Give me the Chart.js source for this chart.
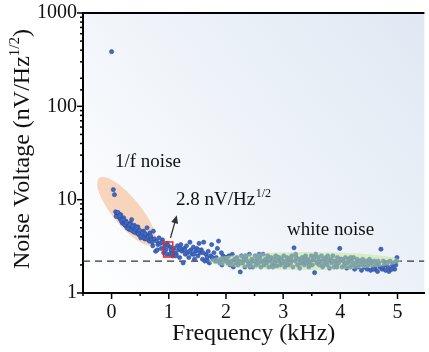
<!DOCTYPE html>
<html>
<head>
<meta charset="utf-8">
<script src="https://cdn.jsdelivr.net/npm/chart.js@4"></script>
<style>
  html, body { margin: 0; padding: 0; background: #fff; }
  #wrap { width: 429px; height: 352px; position: relative; }
</style>
</head>
<body>
<div id="wrap"><canvas id="noiseChart"></canvas></div>
<script>
// frequency in kHz / noise voltage in nV/Hz^1/2
const freq = [
  0.00, 0.03, 0.05, 0.07, 0.09, 0.10, 0.12, 0.13, 0.15, 0.16, 0.18, 0.19, 0.21, 0.22, 0.24, 0.25,
  0.27, 0.28, 0.30, 0.31, 0.33, 0.35, 0.36, 0.38, 0.40, 0.41, 0.43, 0.45, 0.46, 0.48, 0.50, 0.51,
  0.53, 0.55, 0.56, 0.58, 0.60, 0.62, 0.63, 0.65, 0.67, 0.69,
  0.08, 0.11, 0.14, 0.17, 0.20, 0.23, 0.26, 0.29, 0.32, 0.34, 0.37, 0.39, 0.42, 0.44, 0.47, 0.49,
  0.52, 0.54, 0.57, 0.59, 0.61, 0.64, 0.66, 0.68, 0.70,
  0.71, 0.73, 0.75, 0.77, 0.79, 0.81, 0.83, 0.85, 0.87, 0.89, 0.91, 0.93, 0.95, 0.97, 0.99, 1.01,
  1.03, 1.05, 1.07, 1.09, 1.11, 1.13, 1.15, 1.17, 1.19, 1.21, 1.23, 1.25, 1.27, 1.29, 1.31, 1.33,
  1.35, 1.37, 1.39, 1.41, 1.43, 1.45, 1.47, 1.49, 1.51, 1.53, 1.55, 1.57, 1.59, 1.61, 1.63, 1.65,
  1.67, 1.69, 1.71, 1.73, 1.75, 1.77, 1.79, 1.81, 1.83, 1.85, 1.87, 1.89, 1.91, 1.93, 1.95, 1.97, 1.99,
  0.72, 0.80, 0.88, 0.96, 1.04, 1.12, 1.20, 1.28, 1.36, 1.44, 1.52, 1.60, 1.68, 1.76, 1.84, 1.92,
  2.01, 2.03, 2.05, 2.07, 2.09, 2.11, 2.13, 2.15, 2.17, 2.19, 2.21, 2.23, 2.25, 2.27, 2.29, 2.31,
  2.33, 2.35, 2.37, 2.39, 2.41, 2.43, 2.45, 2.47, 2.49, 2.51, 2.53, 2.55, 2.57, 2.59, 2.61, 2.63,
  2.65, 2.67, 2.69, 2.71, 2.73, 2.75, 2.77, 2.79, 2.81, 2.83, 2.85, 2.87, 2.89, 2.91, 2.93, 2.95,
  2.97, 2.99, 3.01, 3.03, 3.05, 3.07, 3.09, 3.11, 3.13, 3.15, 3.17, 3.19, 3.21, 3.23, 3.25, 3.27,
  3.29, 3.31, 3.33, 3.35, 3.37, 3.39, 3.41, 3.43, 3.45, 3.47, 3.49, 3.51, 3.53, 3.55, 3.57, 3.59,
  3.61, 3.63, 3.65, 3.67, 3.69, 3.71, 3.73, 3.75, 3.77, 3.79, 3.81, 3.83, 3.85, 3.87, 3.89, 3.91,
  3.93, 3.95, 3.97, 3.99, 4.01, 4.03, 4.05, 4.07, 4.09, 4.11, 4.13, 4.15, 4.17, 4.19, 4.21, 4.23,
  4.25, 4.27, 4.29, 4.31, 4.33, 4.35, 4.37, 4.39, 4.41, 4.43, 4.45, 4.47, 4.49, 4.51, 4.53, 4.55,
  4.57, 4.59, 4.61, 4.63, 4.65, 4.67, 4.69, 4.71, 4.73, 4.75, 4.77, 4.79, 4.81, 4.83, 4.85, 4.87,
  4.89, 4.91, 4.93, 4.95, 4.97, 4.99,
  2.02, 2.10, 2.18, 2.26, 2.34, 2.42, 2.50, 2.58, 2.66, 2.74, 2.82, 2.90, 2.98, 3.06, 3.14, 3.22,
  3.30, 3.38, 3.46, 3.54, 3.62, 3.70, 3.78, 3.86, 3.94, 4.02, 4.10, 4.18, 4.26, 4.34, 4.42, 4.50,
  4.58, 4.66, 4.74, 4.82, 4.90, 4.98
];
const noise = [
  385, 12.8, 11.3, 7.4, 7.0, 6.8, 7.1, 6.5, 6.2, 6.9, 6.0, 5.6, 6.4, 5.8, 5.3, 5.9,
  5.0, 5.5, 5.2, 4.8, 5.6, 6.1, 5.0, 4.6, 5.3, 4.9, 4.4, 4.7, 5.1, 4.2, 4.5, 3.9,
  4.3, 4.0, 4.6, 3.8, 4.2, 5.0, 4.1, 3.7, 4.4, 3.9,
  6.6, 7.3, 6.7, 5.9, 6.1, 5.4, 5.7, 4.9, 5.4, 4.7, 5.2, 4.5, 4.8, 5.0, 4.3, 4.7,
  4.1, 4.4, 3.9, 4.3, 3.8, 4.0, 3.6, 4.1, 3.7,
  3.5, 4.6, 3.8, 2.8, 3.6, 3.3, 3.9, 3.4, 3.0, 3.7, 2.7, 3.2, 2.9, 3.4, 3.2, 2.6,
  3.1, 2.8, 2.5, 3.0, 2.7, 2.6, 3.2, 2.9, 2.4, 3.3, 2.8, 2.1, 3.0, 2.6, 3.2, 2.7,
  2.4, 3.5, 2.9, 2.6, 3.1, 2.3, 2.8, 3.0, 2.5, 3.4, 2.7, 2.9, 2.3, 3.5, 2.2, 2.6,
  2.4, 2.8, 2.1, 2.5, 3.3, 2.3, 2.7, 2.2, 2.4, 3.0, 3.6, 2.1, 2.3, 2.0, 2.5, 2.2, 2.4,
  3.2, 2.9, 3.5, 2.6, 2.9, 2.5, 3.0, 2.9, 2.8, 2.6, 2.9, 2.7, 2.2, 2.4, 2.2, 2.7,
  2.3, 2.1, 2.5, 2.0, 2.2, 2.6, 1.9, 2.3, 2.1, 2.4, 2.0, 2.2, 1.68, 2.5, 2.1, 2.3,
  1.9, 2.4, 2.2, 2.0, 2.6, 2.1, 2.3, 1.9, 2.2, 2.5, 2.0, 2.3, 2.1, 2.4, 1.9, 2.2,
  2.6, 2.0, 2.3, 2.1, 2.5, 1.9, 2.2, 2.4, 2.0, 2.3, 2.1, 2.5, 1.95, 2.2, 2.4, 2.0,
  2.3, 2.1, 2.5, 1.9, 2.2, 2.4, 2.0, 2.3, 2.1, 2.5, 1.9, 3.05, 2.2, 2.4, 2.0, 2.3,
  1.85, 2.1, 2.4, 2.2, 2.0, 2.5, 2.1, 2.3, 1.9, 2.2, 2.5, 2.0, 2.3, 1.65, 2.6, 2.1,
  2.4, 2.0, 2.2, 2.5, 1.9, 2.3, 2.1, 2.4, 2.0, 2.2, 1.85, 2.3, 2.1, 2.5, 1.9, 2.2,
  2.0, 2.4, 2.1, 3.0, 2.3, 1.9, 2.2, 2.0, 2.4, 1.85, 2.1, 2.3, 1.9, 2.2, 2.0, 2.4,
  1.8, 2.1, 2.3, 1.9, 2.2, 2.0, 1.75, 2.3, 2.1, 1.9, 2.2, 1.8, 2.0, 2.3, 1.75, 2.1,
  1.9, 2.2, 1.8, 2.0, 1.7, 2.1, 1.9, 2.95, 1.8, 2.2, 2.0, 1.75, 2.1, 1.9, 1.7, 2.2,
  1.8, 2.0, 2.1, 1.8, 2.0, 2.4,
  2.4, 2.0, 2.3, 2.1, 2.5, 1.9, 2.2, 2.6, 2.1, 2.3, 1.9, 2.4, 2.2, 2.0, 2.3, 2.6,
  2.1, 2.3, 2.0, 2.4, 2.2, 2.0, 2.5, 2.2, 1.9, 2.3, 2.1, 2.4, 2.0, 2.2, 1.9, 2.1,
  1.8, 2.2, 1.9, 2.1, 1.8, 2.2
];
const xTickLabels = [0, 1, 2, 3, 4, 5];
const yTickLabels = [1, 10, 100, 1000];
const whiteLevel = 2.2;

const serif = "'Liberation Serif', 'DejaVu Serif', serif";

const points = freq.map((f, i) => ({ x: f, y: noise[i] }));

// background, ellipses, marker box, arrow, notes and tick marks
const decor = {
    id: 'decor',
    beforeDraw(chart) {
        const { ctx, chartArea: a } = chart;
        const g = ctx.createLinearGradient(a.left, a.bottom, a.right, a.top);
        g.addColorStop(0, '#ffffff');
        g.addColorStop(1, '#dfe8f3');
        ctx.save();
        ctx.fillStyle = g;
        ctx.fillRect(a.left, a.top, a.right - a.left, a.bottom - a.top);
        ctx.restore();
    },
    beforeDatasetsDraw(chart) {
        const { ctx, scales: { x, y } } = chart;
        ctx.save();
        ctx.fillStyle = 'rgba(246, 196, 160, 0.7)';
        ctx.beginPath();
        ctx.ellipse(x.getPixelForValue(0.26), y.getPixelForValue(7.5), 43, 14, 50.6 * Math.PI / 180, 0, Math.PI * 2);
        ctx.fill();
        ctx.restore();
    },
    afterDatasetsDraw(chart) {
        const { ctx, chartArea: a, scales: { x, y } } = chart;
        ctx.save();

        // white noise band
        ctx.fillStyle = 'rgba(192, 228, 150, 0.5)';
        ctx.beginPath();
        ctx.ellipse(x.getPixelForValue(3.38), y.getPixelForValue(whiteLevel), 96, 9, 0, 0, Math.PI * 2);
        ctx.fill();

        // red marker box at 1 kHz
        const rx0 = x.getPixelForValue(0.91), rx1 = x.getPixelForValue(1.07);
        const ry0 = y.getPixelForValue(3.52), ry1 = y.getPixelForValue(2.43);
        ctx.strokeStyle = '#e8252b';
        ctx.lineWidth = 1.5;
        ctx.strokeRect(rx0, ry0, rx1 - rx0, ry1 - ry0);

        // arrow
        const ax0 = x.getPixelForValue(1.03), ay0 = y.getPixelForValue(3.9);
        const ax1 = x.getPixelForValue(1.14), ay1 = y.getPixelForValue(6.8);
        const ang = Math.atan2(ay1 - ay0, ax1 - ax0);
        ctx.strokeStyle = '#333';
        ctx.fillStyle = '#333';
        ctx.lineWidth = 1.3;
        ctx.beginPath();
        ctx.moveTo(ax0, ay0);
        ctx.lineTo(ax1 - 5 * Math.cos(ang), ay1 - 5 * Math.sin(ang));
        ctx.stroke();
        ctx.beginPath();
        ctx.moveTo(ax1, ay1);
        ctx.lineTo(ax1 - 8 * Math.cos(ang) + 3.5 * Math.sin(ang), ay1 - 8 * Math.sin(ang) - 3.5 * Math.cos(ang));
        ctx.lineTo(ax1 - 8 * Math.cos(ang) - 3.5 * Math.sin(ang), ay1 - 8 * Math.sin(ang) + 3.5 * Math.cos(ang));
        ctx.closePath();
        ctx.fill();

        // notes
        ctx.fillStyle = '#111';
        ctx.textBaseline = 'alphabetic';
        ctx.textAlign = 'left';
        ctx.font = '19px ' + serif;
        ctx.fillText('1/f noise', 115, 167);
        ctx.fillText('white noise', 287, 235);
        ctx.fillText('2.8 nV/Hz', 176, 205);
        const w = ctx.measureText('2.8 nV/Hz').width;
        ctx.font = '12px ' + serif;
        ctx.fillText('1/2', 176 + w + 0.5, 197);

        // top frame
        ctx.strokeStyle = '#000';
        ctx.lineWidth = 2;
        ctx.beginPath();
        ctx.moveTo(a.left - 1, a.top);
        ctx.lineTo(a.right, a.top);
        ctx.stroke();

        // tick marks (outward)
        ctx.lineWidth = 1.5;
        y.ticks.forEach(t => {
            const py = y.getPixelForValue(t.value);
            const lg = Math.log10(t.value);
            const len = Math.abs(lg - Math.round(lg)) < 1e-9 ? 6 : 3;
            ctx.beginPath();
            ctx.moveTo(a.left, py);
            ctx.lineTo(a.left - len, py);
            ctx.stroke();
        });
        x.ticks.forEach(t => {
            if (t.value > 5.01) return;
            const px = x.getPixelForValue(t.value);
            const len = Number.isInteger(t.value) ? 6 : 3;
            ctx.beginPath();
            ctx.moveTo(px, a.bottom);
            ctx.lineTo(px, a.bottom + len);
            ctx.stroke();
        });

        // y axis title with superscript
        ctx.save();
        ctx.translate(23, (a.top + a.bottom) / 2 - 4);
        ctx.rotate(-Math.PI / 2);
        ctx.textBaseline = 'middle';
        const main = 'Noise Voltage (nV/Hz';
        ctx.font = '24px ' + serif;
        const mw = ctx.measureText(main).width;
        const cw = ctx.measureText(')').width;
        ctx.font = '15px ' + serif;
        const sw = ctx.measureText('1/2').width;
        const sx = -(mw + sw + cw) / 2;
        ctx.font = '24px ' + serif;
        ctx.fillText(main, sx, 0);
        ctx.fillText(')', sx + mw + sw, 0);
        ctx.font = '15px ' + serif;
        ctx.fillText('1/2', sx + mw, -8);
        ctx.restore();

        ctx.restore();
    }
};

const ctx = document.getElementById('noiseChart').getContext('2d');
new Chart(ctx, {
    type: 'scatter',
    data: {
        datasets: [{
            data: points,
            pointRadius: 2.1,
            pointBackgroundColor: '#4169c2',
            pointBorderColor: '#2b4c9c',
            pointBorderWidth: 0.6
        }, {
            type: 'line',
            data: [{ x: -0.5, y: whiteLevel }, { x: 5.47, y: whiteLevel }],
            borderColor: '#333',
            borderWidth: 1.3,
            borderDash: [7, 5],
            pointRadius: 0,
            fill: false
        }]
    },
    plugins: [decor],
    options: {
        responsive: true,
        maintainAspectRatio: false,
        animation: false,
        layout: { padding: { top: 13, left: 0, right: 0, bottom: 0 } },
        plugins: {
            legend: { display: false },
            tooltip: { enabled: false }
        },
        scales: {
            x: {
                type: 'linear',
                min: -0.5,
                max: 5.47,
                afterFit: s => { s.height = 59; s.paddingLeft = 0; s.paddingRight = 0; },
                grid: { display: false, drawTicks: false },
                border: { display: true, color: '#000', width: 2 },
                ticks: {
                    stepSize: 0.5,
                    includeBounds: false,
                    autoSkip: false,
                    maxRotation: 0,
                    padding: 8,
                    color: '#111',
                    font: { family: serif, size: 20 },
                    callback: v => xTickLabels.includes(v) ? String(v) : ''
                },
                title: {
                    display: true,
                    text: 'Frequency (kHz)',
                    color: '#111',
                    font: { family: serif, size: 24 },
                    padding: { top: 0, bottom: 4 }
                }
            },
            y: {
                type: 'logarithmic',
                min: 1,
                max: 1000,
                afterFit: s => { s.width = 83; s.paddingTop = 0; s.paddingBottom = 0; },
                grid: { display: false, drawTicks: false },
                border: { display: true, color: '#000', width: 2 },
                ticks: {
                    autoSkip: false,
                    padding: 6,
                    color: '#111',
                    font: { family: serif, size: 20 },
                    callback: v => yTickLabels.includes(v) ? String(v) : ''
                }
            }
        }
    }
});
</script>
</body>
</html>
